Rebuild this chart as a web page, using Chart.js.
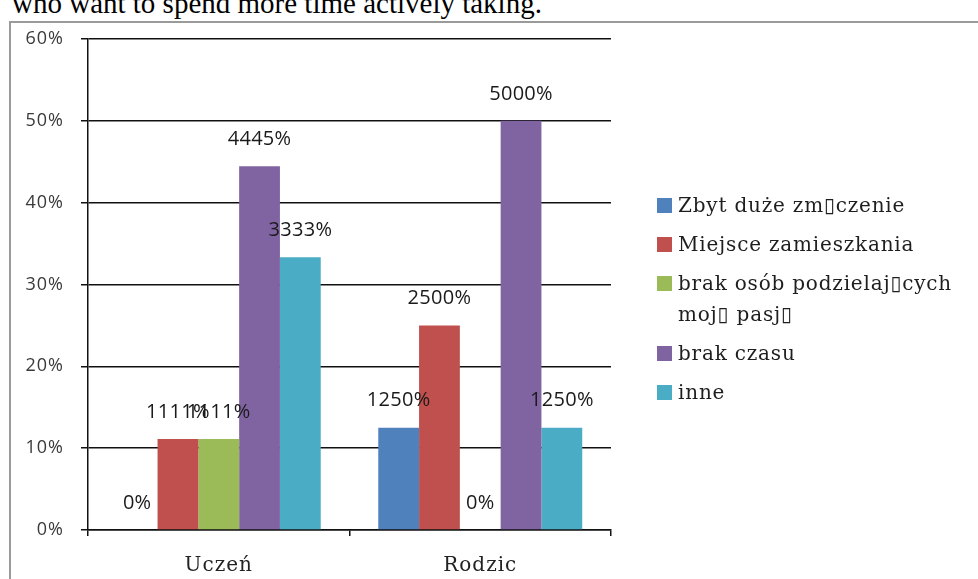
<!DOCTYPE html>
<html lang="pl">
<head>
<meta charset="utf-8">
<title>Przyczyny</title>
<script src="https://cdn.jsdelivr.net/npm/chart.js@4/dist/chart.umd.min.js"></script>
<style>
  html, body { margin: 0; padding: 0; background: #fff; overflow: hidden; }
  body { width: 978px; height: 579px; position: relative; }
  .caption {
    position: absolute; left: 12px; top: -11px;
    font: 29px/29px "Liberation Serif", serif; color: #000; white-space: nowrap;
  }
  .frame {
    position: absolute; left: 9px; top: 21px; width: 1000px; height: 600px;
    border: 2px solid #9a9a9a; box-sizing: border-box;
  }
  #chart { position: absolute; left: 0; top: 0; }
  #legend {
    position: absolute; left: 657px; top: 190px;
    font: 20px/31px "DejaVu Serif", serif; letter-spacing: 0.8px; color: #1e1e1e;
  }
  .item { display: flex; align-items: flex-start; margin-bottom: 8px; }
  .swatch { width: 15px; height: 15px; margin-top: 8px; margin-right: 6px; flex: none; }
  .text { width: 300px; }
</style>
</head>
<body>
<div class="caption">who want to spend more time actively taking.</div>
<div class="frame"></div>
<canvas id="chart" width="978" height="579"></canvas>
<div id="legend"></div>
<script>
// categories and answers (values in %)
const categories = ["Uczeń", "Rodzic"];
const seriesNames = [
	"Zbyt duże zm▯czenie",
	"Miejsce zamieszkania",
	"brak osób podzielaj▯cych moj▯ pasj▯",
	"brak czasu",
	"inne"
];
const seriesColors = ["#4F81BD", "#C0504D", "#9BBB59", "#8064A2", "#4BACC6"];
const zbytDuzeZmeczenie = [0, 12.5];
const miejsceZamieszkania = [11.11, 25];
const brakOsob = [11.11, 0];
const brakCzasu = [44.45, 50];
const inne = [33.33, 12.5];
const yTicks = [0, 10, 20, 30, 40, 50, 60];

const seriesValues = [zbytDuzeZmeczenie, miejsceZamieszkania, brakOsob, brakCzasu, inne];

// labels are printed without the decimal separator, e.g. 11.11 -> "1111%"
function formatPct(v) {
	return v === 0 ? "0%" : v.toFixed(2).replace(".", "") + "%";
}

const spacedText = {
	id: "spacedText",
	beforeDraw(chart) {
		chart.ctx.letterSpacing = "1px";
	}
};

const valueLabels = {
	id: "valueLabels",
	afterDatasetsDraw(chart) {
		const ctx = chart.ctx;
		ctx.save();
		ctx.font = '20px "Open Sans"';
		ctx.letterSpacing = "0.3px";
		ctx.fillStyle = "#1a1a1a";
		ctx.textAlign = "center";
		ctx.textBaseline = "middle";
		chart.data.datasets.forEach((ds, i) => {
			chart.getDatasetMeta(i).data.forEach((bar, j) => {
				ctx.fillText(formatPct(ds.data[j]), bar.x, bar.y - 27);
			});
		});
		ctx.restore();
	}
};

const chart = new Chart(document.getElementById("chart"), {
	type: "bar",
	data: {
		labels: categories,
		datasets: seriesNames.map((name, i) => ({
			label: name,
			data: seriesValues[i],
			backgroundColor: seriesColors[i],
			borderWidth: 0,
			categoryPercentage: 0.78,
			barPercentage: 1
		}))
	},
	options: {
		responsive: false,
		animation: false,
		layout: { padding: { left: 0, top: 39, right: 367, bottom: 0 } },
		plugins: {
			legend: { display: false },
			tooltip: { enabled: false }
		},
		scales: {
			x: {
				afterFit: (scale) => { scale.height = 49; },
				grid: { display: true, drawOnChartArea: false, drawTicks: true, tickLength: 6, color: "#111", lineWidth: 1.5, offset: true },
				border: { display: true, color: "#111", width: 1.5 },
				ticks: {
					color: "#222",
					padding: 18,
					font: { family: "DejaVu Serif", size: 20 }
				}
			},
			y: {
				min: yTicks[0],
				max: yTicks[yTicks.length - 1],
				afterFit: (scale) => { scale.width = 88; },
				afterBuildTicks: (scale) => { scale.ticks = yTicks.map(v => ({ value: v })); },
				grid: { color: "#111", lineWidth: 1.5, drawTicks: true, tickLength: 7 },
				border: { display: true, color: "#111", width: 1.5 },
				ticks: {
					color: "#3a3a3a",
					padding: 17,
					font: { family: "Open Sans", size: 18 },
					callback: (v) => v + "%"
				}
			}
		}
	},
	plugins: [spacedText, valueLabels]
});

// legend on the right, built from the datasets
const legend = document.getElementById("legend");
chart.data.datasets.forEach((ds) => {
	const item = document.createElement("div");
	item.className = "item";
	const swatch = document.createElement("span");
	swatch.className = "swatch";
	swatch.style.background = ds.backgroundColor;
	const text = document.createElement("span");
	text.className = "text";
	text.textContent = ds.label;
	item.append(swatch, text);
	legend.appendChild(item);
});
</script>
</body>
</html>
